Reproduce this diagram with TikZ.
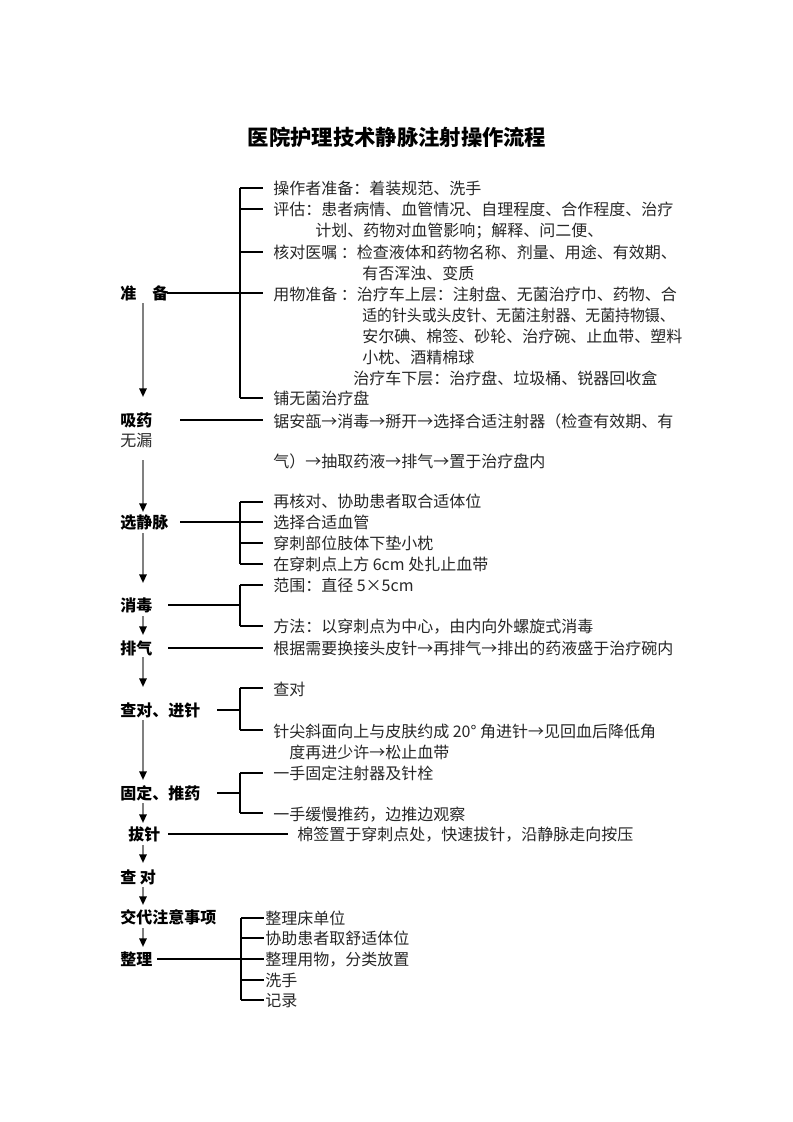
\documentclass[tikz,border=0pt]{standalone}
\usepackage{fontspec}
\setmainfont{Noto Sans CJK SC}
\usetikzlibrary{arrows.meta}
\begin{document}
\begin{tikzpicture}[x=0.75pt,y=-0.75pt,
  txt/.style={anchor=base west, inner sep=0pt, yshift=-4.5pt, font=\fontsize{12pt}{14pt}\selectfont, text=black!85},
  lab/.style={anchor=base west, inner sep=0pt, yshift=-4.5pt, font=\fontsize{12pt}{14pt}\selectfont\bfseries, text=black},
  ln/.style={draw=black, line width=0.85pt},
  flow/.style={draw=black!50, line width=1.5pt, -{Triangle[length=6.5pt,width=5.5pt,color=black]}}]
\useasboundingbox (0,0) rectangle (793,1122);

% title
\node[anchor=center, inner sep=0pt, font=\fontsize{16pt}{18pt}\selectfont\bfseries] (title) at (397,137) {医院护理技术静脉注射操作流程};

% ---------- labels ----------
\node[lab] (L1) at (120,293) {准　备};
\node[lab] (L2) at (120,420) {吸药};
\node[txt] (L2b) at (120,440) {无漏};
\node[lab] (L3) at (120,522) {选静脉};
\node[lab] (L4) at (120,605) {消毒};
\node[lab] (L5) at (120,648) {排气};
\node[lab] (L6) at (120,710) {查对、进针};
\node[lab] (L7) at (120,793) {固定、推药};
\node[lab] (L8) at (128,834) {拔针};
\node[lab] (L9) at (120,877) {查 对};
\node[lab] (L10) at (120,917) {交代注意事项};
\node[lab] (L11) at (120,959) {整理};

% ---------- flow arrows ----------
\coordinate (a1s) at (143,303); \coordinate (a1e) at (143,397);
\coordinate (a2s) at (143,460); \coordinate (a2e) at (143,512);
\coordinate (a3s) at (143,533); \coordinate (a3e) at (143,583);
\coordinate (a4s) at (143,616); \coordinate (a4e) at (143,635);
\coordinate (a5s) at (143,657); \coordinate (a5e) at (143,687);
\coordinate (a6s) at (143,720); \coordinate (a6e) at (143,780);
\coordinate (a7s) at (143,803); \coordinate (a7e) at (143,823);
\coordinate (a8s) at (143,845); \coordinate (a8e) at (143,863);
\coordinate (a9s) at (143,887); \coordinate (a9e) at (143,905);
\coordinate (a10s) at (143,928); \coordinate (a10e) at (143,947);
\foreach \i in {1,...,10} {\draw[flow] (a\i s) -- (a\i e);}

% ---------- 准备 ----------
\node[txt] (p1) at (273,188) {操作者准备：着装规范、洗手};
\node[txt] (p2) at (273,209) {评估：患者病情、血管情况、自理程度、合作程度、治疗};
\node[txt] (p2b) at (315,230) {计划、药物对血管影响；解释、问二便、};
\node[txt] (p3) at (273,252) {核对医嘱 ：检查液体和药物名称、剂量、用途、有效期、};
\node[txt] (p3b) at (362,273) {有否浑浊、变质};
\node[txt] (p4) at (273,294) {用物准备 ：治疗车上层：注射盘、无菌治疗巾、药物、合};
\node[txt] (p4b) at (362,315) {\scalebox{0.93}[1]{适的针头或头皮针、无菌注射器、无菌持物镊、}};
\node[txt] (p4c) at (362,336) {安尔碘、棉签、砂轮、治疗碗、止血带、塑料};
\node[txt] (p4d) at (362,357) {小枕、酒精棉球};
\node[txt] (p4e) at (353,378) {治疗车下层：治疗盘、垃圾桶、锐器回收盒};
\node[txt] (p5) at (273,398) {铺无菌治疗盘};
\draw[ln] (240,188) -- (240,398);
\foreach \y in {188,209,252,398} {\draw[ln] (240,\y) -- (263,\y);}
\draw[ln] (167,293) -- (263,293);

% ---------- 吸药 ----------
\node[txt] (s1) at (273,421) {锯安瓿→消毒→掰开→选择合适注射器（检查有效期、有};
\node[txt] (s1b) at (273,461) {气）→抽取药液→排气→置于治疗盘内};
\draw[ln] (180,420) -- (263,420);

% ---------- 选静脉 ----------
\node[txt] (v1) at (273,501) {再核对、协助患者取合适体位};
\node[txt] (v2) at (273,522) {选择合适血管};
\node[txt] (v3) at (273,543) {穿刺部位肢体下垫小枕};
\node[txt] (v4) at (273,564) {在穿刺点上方 6cm 处扎止血带};
\draw[ln] (240,502) -- (240,564);
\foreach \y in {502,543,564} {\draw[ln] (240,\y) -- (263,\y);}
\draw[ln] (180,522) -- (263,522);

% ---------- 消毒 ----------
\node[txt] (d1) at (273,585) {范围：直径 5×5cm};
\node[txt] (d2) at (273,626) {方法：以穿刺点为中心，由内向外螺旋式消毒};
\draw[ln] (240,585) -- (240,626);
\foreach \y in {585,626} {\draw[ln] (240,\y) -- (263,\y);}
\draw[ln] (168,605) -- (240,605);

% ---------- 排气 ----------
\node[txt] (e1) at (273,648) {根据需要换接头皮针→再排气→排出的药液盛于治疗碗内};
\draw[ln] (168,648) -- (263,648);

% ---------- 查对、进针 ----------
\node[txt] (n1) at (273,689) {查对};
\node[txt] (n2) at (273,731) {针尖斜面向上与皮肤约成 20° 角进针→见回血后降低角};
\node[txt] (n2b) at (289,752) {度再进少许→松止血带};
\draw[ln] (240,688) -- (240,730);
\foreach \y in {688,730} {\draw[ln] (240,\y) -- (263,\y);}
\draw[ln] (217,710) -- (240,710);

% ---------- 固定、推药 ----------
\node[txt] (f1) at (273,773) {一手固定注射器及针栓};
\node[txt] (f2) at (273,814) {一手缓慢推药，边推边观察};
\draw[ln] (240,773) -- (240,813);
\foreach \y in {773,813} {\draw[ln] (240,\y) -- (263,\y);}
\draw[ln] (217,793) -- (240,793);

% ---------- 拔针 ----------
\node[txt] (b1) at (297,834) {棉签置于穿刺点处，快速拔针，沿静脉走向按压};
\draw[ln] (168,834) -- (288,834);

% ---------- 整理 ----------
\node[txt] (z1) at (265,918) {整理床单位};
\node[txt] (z2) at (265,938) {协助患者取舒适体位};
\node[txt] (z3) at (265,959) {整理用物，分类放置};
\node[txt] (z4) at (265,980) {洗手};
\node[txt] (z5) at (265,1000) {记录};
\draw[ln] (241,918) -- (241,1000);
\foreach \y in {918,938,980,1000} {\draw[ln] (241,\y) -- (264,\y);}
\draw[ln] (157,959) -- (264,959);
\end{tikzpicture}
\end{document}
